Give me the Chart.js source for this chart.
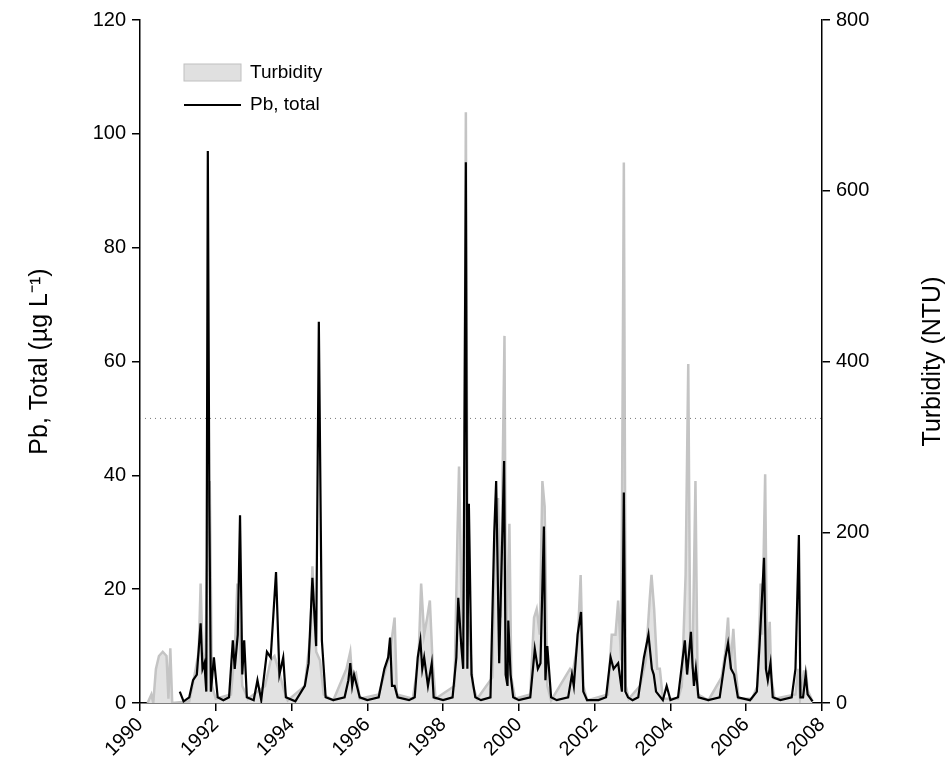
<!DOCTYPE html>
<html>
<head>
<meta charset="utf-8">
<script src="https://cdn.jsdelivr.net/npm/chart.js@4"></script>
<style>
  html, body { margin: 0; padding: 0; background: #fff; }
  #wrap { width: 951px; height: 783px; }
</style>
</head>
<body>
<div id="wrap"><canvas id="c"></canvas></div>
<script>
// Pb, total (µg/L) by decimal year
const pbYears = [1991.05,1991.15,1991.3,1991.4,1991.5,1991.6,1991.65,1991.7,1991.75,1991.79,1991.83,1991.87,1991.95,1992.05,1992.2,1992.35,1992.45,1992.5,1992.58,1992.64,1992.7,1992.75,1992.82,1993.0,1993.1,1993.2,1993.35,1993.45,1993.59,1993.68,1993.78,1993.85,1994.1,1994.35,1994.45,1994.55,1994.65,1994.72,1994.8,1994.9,1995.1,1995.4,1995.5,1995.55,1995.6,1995.65,1995.8,1996.0,1996.3,1996.45,1996.55,1996.6,1996.65,1996.72,1996.8,1997.1,1997.25,1997.33,1997.4,1997.45,1997.5,1997.6,1997.7,1997.75,1998.0,1998.25,1998.35,1998.4,1998.48,1998.53,1998.6,1998.64,1998.68,1998.75,1998.85,1999.0,1999.25,1999.35,1999.4,1999.48,1999.61,1999.65,1999.7,1999.72,1999.78,1999.85,2000.0,2000.3,2000.42,2000.5,2000.57,2000.66,2000.7,2000.75,2000.85,2001.0,2001.3,2001.4,2001.45,2001.55,2001.64,2001.7,2001.8,2002.1,2002.3,2002.42,2002.5,2002.62,2002.72,2002.77,2002.81,2002.88,2003.0,2003.15,2003.3,2003.42,2003.51,2003.56,2003.62,2003.8,2003.9,2004.0,2004.2,2004.38,2004.44,2004.54,2004.58,2004.62,2004.67,2004.74,2005.0,2005.3,2005.45,2005.52,2005.6,2005.68,2005.78,2006.1,2006.28,2006.35,2006.47,2006.52,2006.57,2006.64,2006.7,2006.9,2007.2,2007.3,2007.39,2007.43,2007.5,2007.57,2007.62,2007.75];
const pbValues = [2,0.3,1,4,5,14,6,7,2,97,35,2,8,1,0.5,1,11,6,12,33,5,11,1,0.5,4,0.5,9,8,23,5,8,1,0.3,3,7,22,10,67,11,1,0.5,1,4,7,3,5,1,0.5,1,6,8,11.5,3,3,1,0.5,1,8,11,6,8,3,7,1,0.5,1,8,18.5,10,6,95,6,35,5,1,0.5,1,30,39,7,42.5,5,3,14.5,5,1,0.5,1,9.5,6,7,31,4,10,1,0.5,1,5,3,12,16,2,0.5,0.5,1,8,6,7,2,37,2,1,0.5,1,8,12,6,5,2,0.5,3,0.5,1,11,5,12.5,7,3,6,1,0.5,1,8,10.5,6,5,1,0.5,2,10,25.5,6,4,7,1,0.5,1,6,29.5,1,1,5,1.5,0.3];

// Turbidity (NTU) by decimal year
const turbYears = [1990.2,1990.3,1990.35,1990.42,1990.5,1990.6,1990.7,1990.75,1990.8,1990.85,1991.3,1991.45,1991.55,1991.6,1991.65,1991.72,1991.78,1991.84,1991.9,1992.0,1992.4,1992.5,1992.57,1992.63,1992.7,1992.85,1993.3,1993.45,1993.55,1993.65,1993.8,1993.9,1994.35,1994.5,1994.55,1994.65,1994.75,1994.85,1995.1,1995.45,1995.55,1995.6,1995.7,1995.8,1996.3,1996.55,1996.6,1996.72,1996.78,1997.2,1997.35,1997.42,1997.5,1997.58,1997.65,1997.72,1997.8,1998.3,1998.38,1998.42,1998.5,1998.55,1998.6,1998.65,1998.7,1998.78,1998.9,1999.3,1999.37,1999.45,1999.52,1999.58,1999.62,1999.66,1999.75,1999.8,1999.9,2000.3,2000.4,2000.47,2000.55,2000.62,2000.68,2000.75,2000.85,2001.35,2001.42,2001.55,2001.63,2001.7,2001.8,2002.35,2002.45,2002.55,2002.62,2002.7,2002.77,2002.82,2002.9,2003.2,2003.35,2003.45,2003.5,2003.57,2003.65,2003.72,2003.8,2004.2,2004.3,2004.4,2004.47,2004.52,2004.58,2004.66,2004.72,2005.0,2005.35,2005.45,2005.52,2005.58,2005.66,2005.72,2005.8,2006.15,2006.3,2006.38,2006.42,2006.5,2006.55,2006.62,2006.66,2006.75,2007.3,2007.37,2007.42,2007.52,2007.58,2007.62,2007.75];
const turbValues = [0,10,0,40,55,60,55,5,64,0,2,35,60,140,60,40,180,260,20,5,10,60,140,80,20,5,20,50,55,40,15,3,20,80,160,60,50,10,3,40,60,30,35,5,10,50,60,100,10,5,50,140,80,100,120,50,5,20,200,277,80,100,692,100,80,20,5,30,200,240,100,300,430,60,210,30,5,10,100,110,80,260,230,20,3,40,35,70,150,20,3,10,80,80,120,50,633,20,5,20,50,120,150,110,40,40,5,5,20,150,397,80,40,260,10,3,30,60,100,40,87,40,5,5,20,140,80,268,40,95,30,5,10,40,5,37,37,15,2];

const refYears = [1990, 2008];
const refValues = [50, 50];

const xTicks = [1990,1992,1994,1996,1998,2000,2002,2004,2006,2008];
const pbTicks = [0,20,40,60,80,100,120];
const turbTicks = [0,200,400,600,800];

const toPts = (xs, ys) => xs.map((x, i) => ({ x, y: ys[i] }));
const FONT = 'Liberation Sans, Arial, sans-serif';

// legend box and both axis titles (both read bottom-to-top)
const extrasPlugin = {
  id: 'extras',
  afterDraw(chart) {
    const ctx = chart.ctx;
    const area = chart.chartArea;
    ctx.save();
    ctx.fillStyle = '#e0e0e0';
    ctx.strokeStyle = '#c0c0c0';
    ctx.lineWidth = 1;
    ctx.fillRect(184, 64, 57, 17);
    ctx.strokeRect(184, 64, 57, 17);
    ctx.strokeStyle = '#000';
    ctx.lineWidth = 2;
    ctx.beginPath(); ctx.moveTo(184, 105); ctx.lineTo(241, 105); ctx.stroke();
    ctx.fillStyle = '#000';
    ctx.font = '19px ' + FONT;
    ctx.textBaseline = 'middle';
    ctx.fillText('Turbidity', 250, 73);
    ctx.fillText('Pb, total', 250, 105);

    const midY = (area.top + area.bottom) / 2;
    ctx.font = '25px ' + FONT;
    ctx.textAlign = 'center';
    ctx.save();
    ctx.translate(40, midY);
    ctx.rotate(-Math.PI / 2);
    ctx.fillText('Pb, Total (µg L⁻¹)', 0, 0);
    ctx.restore();
    ctx.save();
    ctx.translate(933, midY);
    ctx.rotate(-Math.PI / 2);
    ctx.fillText('Turbidity (NTU)', 0, 0);
    ctx.restore();
    ctx.restore();
  }
};

const axisCommon = {
  grid: { display: true, drawOnChartArea: false, drawTicks: true, tickLength: 8, color: '#000', lineWidth: 1.5 },
  border: { display: true, color: '#000', width: 1.5 },
};

new Chart(document.getElementById('c'), {
  type: 'line',
  data: {
    datasets: [
      {
        label: 'Pb, total',
        data: toPts(pbYears, pbValues),
        yAxisID: 'y',
        borderColor: '#000',
        borderWidth: 2.2,
        pointRadius: 0,
        tension: 0,
        fill: false,
        order: 1,
      },
      {
        label: 'limit',
        data: toPts(refYears, refValues),
        yAxisID: 'y',
        borderColor: '#777',
        borderWidth: 1,
        borderDash: [1, 4],
        pointRadius: 0,
        fill: false,
        order: 2,
      },
      {
        label: 'Turbidity',
        data: toPts(turbYears, turbValues),
        yAxisID: 'y2',
        borderColor: '#c4c4c4',
        backgroundColor: '#e2e2e2',
        borderWidth: 2.5,
        pointRadius: 0,
        tension: 0,
        fill: 'origin',
        order: 3,
      },
    ],
  },
  options: {
    responsive: true,
    maintainAspectRatio: false,
    animation: false,
    layout: { padding: { top: 20, left: 0, right: 0, bottom: 0 } },
    plugins: { legend: { display: false }, tooltip: { enabled: false } },
    scales: {
      x: {
        ...axisCommon,
        type: 'linear',
        min: 1990, max: 2008,
        afterBuildTicks: s => { s.ticks = xTicks.map(v => ({ value: v })); },
        afterFit: s => { s.height = 80; },
        ticks: { color: '#000', font: { family: FONT, size: 20 }, minRotation: 45, maxRotation: 45, padding: 2, callback: v => String(v) },
      },
      y: {
        ...axisCommon,
        position: 'left',
        min: 0, max: 120,
        afterBuildTicks: s => { s.ticks = pbTicks.map(v => ({ value: v })); },
        afterFit: s => { s.width = 140; },
        ticks: { color: '#000', font: { family: FONT, size: 20 }, padding: 6 },
      },
      y2: {
        ...axisCommon,
        position: 'right',
        min: 0, max: 800,
        afterBuildTicks: s => { s.ticks = turbTicks.map(v => ({ value: v })); },
        afterFit: s => { s.width = 129; },
        ticks: { color: '#000', font: { family: FONT, size: 20 }, padding: 6 },
      },
    },
  },
  plugins: [extrasPlugin],
});
</script>
</body>
</html>
